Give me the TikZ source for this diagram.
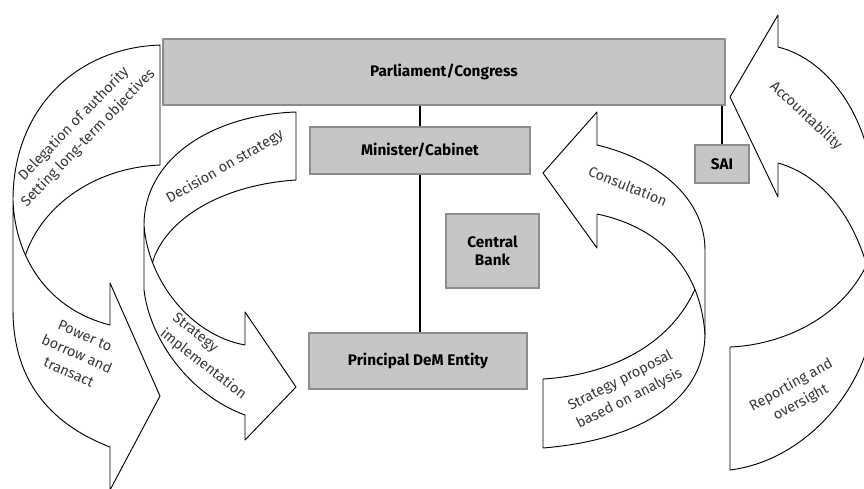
\documentclass[tikz,border=0pt]{standalone}
\usepackage{fontspec}
\setmainfont{Fira Sans}
\usepackage{tikz}
\definecolor{hopxam}{RGB}{197,198,200}
\definecolor{vienxam}{RGB}{140,140,140}
\definecolor{chuxam}{RGB}{55,55,55}
\tikzset{
	hop/.style={draw=vienxam, fill=hopxam, line width=0.9pt, font=\bfseries\fontsize{11.5}{13.5}\selectfont, align=center},
	nhan/.style={text=chuxam, font=\fontsize{10.8}{15}\selectfont, align=center, inner sep=1pt},
	vien/.style={line width=0.7pt, line join=round},
	noi/.style={line width=1.5pt}
}

\begin{document}
\begin{tikzpicture}[x=0.75pt,y=-0.75pt]
		\path[use as bounding box] (0,0) rectangle (864,489);
		\clip (0,0) rectangle (864,489);
		% cac hop
		\node[hop, minimum width=421.5pt, minimum height=49.5pt] (parliament) at (444,72) {Parliament/Congress};
		\node[hop, minimum width=165pt, minimum height=35.25pt] (minister) at (420,150.5) {Minister/Cabinet};
		\node[hop, minimum width=163.5pt, minimum height=42pt] (dem) at (418,361) {Principal DeM Entity};
		\node[hop, minimum width=69.75pt, minimum height=55.5pt] (bank) at (492.5,251) {Central\\Bank};
		\node[hop, minimum width=40.5pt, minimum height=28.5pt] (sai) at (722,164) {SAI};
		\draw[noi] (minister.north) -- (minister.north |- parliament.south);
		\draw[noi] (minister.south) -- (minister.south |- dem.north);
		\draw[noi] (sai.north) -- (sai.north |- parliament.south);
		% mui ten trai
		\draw[vien] (160,165) -- (160,45) .. controls (75,48) and (13,110) .. (13,200) -- (13,310) .. controls (13,370) and (40,420) .. (110,447) -- (110,490) -- (160,396) -- (110,283) -- (110,325) .. controls (50,310) and (15,260) .. coordinate[pos=0.67] (g1) (13,200);
		\draw[vien] (160,165) .. controls (90,168) and (40,210) .. (g1);
		% mui ten thu hai
		\draw[vien] (296,180) -- (296,112) .. controls (210,115) and (144,160) .. (144,225) -- (144,290) .. controls (150,340) and (190,395) .. (245,415) -- (245,440) -- (296,387) -- (245,312) -- (245,345) .. controls (190,335) and (148,280) .. coordinate[pos=0.77] (g2) (144,225);
		\draw[vien] (296,180) .. controls (220,185) and (165,220) .. (g2);
		% mui ten tham van
		\draw[vien] (597,214) .. controls (650,225) and (700,260) .. coordinate[pos=0.77] (g3) (705,335);
		\draw[vien] (597,214) -- (597,248) -- (543,173) -- (597,112) -- (597,145) .. controls (660,160) and (705,200) .. (705,250) -- (705,333) .. controls (705,400) and (640,440) .. (543,448) -- (543,379) .. controls (610,375) and (670,345) .. (g3);
		% mui ten phai
		\draw[vien] (778,163) .. controls (820,175) and (860,215) .. coordinate[pos=0.85] (g4) (875,300);
		\draw[vien] (778,163) -- (778,197) -- (730,97) -- (778,15) -- (778,47) .. controls (830,60) and (872,120) .. (875,200) -- (875,300) .. controls (875,380) and (810,460) .. (730,470) -- (730,347) .. controls (780,345) and (840,320) .. (g4);
		% chu tren mui ten
		\node[nhan, rotate=46] (uyquyen) at (81,131) {Delegation of authority\\Setting long-term objectives};
		\node[nhan, rotate=-24] (vayno) at (77,354) {Power to\\borrow and\\transact};
		\node[nhan, rotate=30] (quyetdinh) at (225,167) {Decision on strategy};
		\node[nhan, rotate=-38, align=left] (thuchien) at (209,357) {Strategy\\implementation};
		\node[nhan, rotate=-22] (thamvan) at (628,186) {Consultation};
		\node[nhan, rotate=27] (dexuat) at (625,390) {Strategy proposal\\based on analysis};
		\node[nhan, rotate=-43] (giaitrinh) at (806,116) {Accountability};
		\node[nhan, rotate=29] (baocao) at (796,394) {Reporting and\\oversight};
	\end{tikzpicture}
\end{document}
